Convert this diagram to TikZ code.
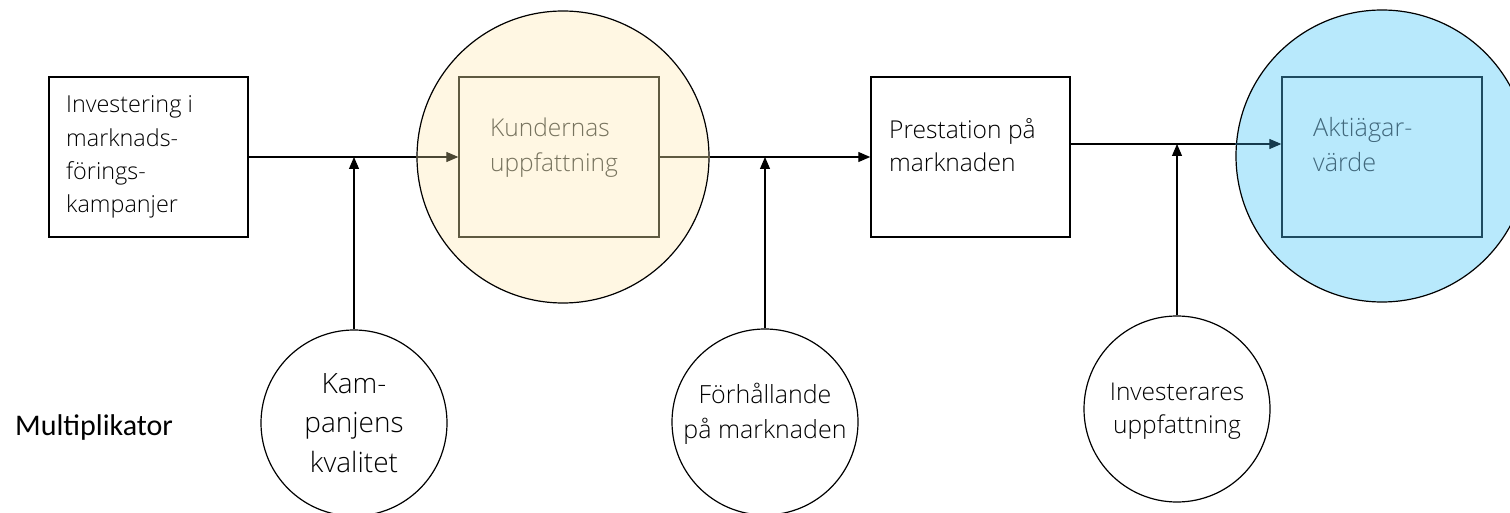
\documentclass[tikz,border=0pt]{standalone}
\usepackage{fontspec}
\setmainfont{Open Sans Light}
\newfontfamily\calibrifont{Carlito}
\usetikzlibrary{arrows.meta}

% colours of the two highlighted stages
\definecolor{creamfill}{HTML}{FFF7E3}
\definecolor{olivedraw}{HTML}{5F5A41}
\definecolor{olivearrow}{HTML}{4B4734}
\definecolor{olivetext}{HTML}{77735E}
\definecolor{skyfill}{HTML}{B8E9FC}
\definecolor{navydraw}{HTML}{1E4B60}
\definecolor{navyarrow}{HTML}{153A4D}
\definecolor{navytext}{HTML}{41687C}

\tikzset{
  stagebox/.style={draw, line width=1.5pt, minimum width=199pt, minimum height=160pt, inner sep=0pt},
  innerbox/.style={draw, line width=1.3pt, minimum width=200pt, minimum height=160pt, inner sep=0pt},
  bigdisc/.style={circle, draw, line width=1.2pt, minimum size=292pt, inner sep=0pt},
  factor/.style={circle, draw, line width=1.2pt, minimum size=186pt, inner sep=0pt},
  words/.style={inner sep=0pt, anchor=base west},
  cwords/.style={inner sep=0pt, anchor=base},
  flow/.style={line width=1.1pt},
  tip/.style={-{Triangle[length=12pt,width=10pt]}},
}

\begin{document}
\begin{tikzpicture}[x=1pt,y=-1pt]
\useasboundingbox (0,0) rectangle (1510,513);

% stage 1
\node[stagebox] (invest) at (148.5,157) {};
\node[words] (investtxt) at (66,113)
  {\parbox[t]{190pt}{\fontsize{23.4}{33.3}\selectfont\raggedright Investering i\\marknads-\\förings-\\kampanjer}};

% stage 2: customers' perception
\node[bigdisc, fill=creamfill] (kundc) at (563,157) {};
\node[innerbox, draw=olivedraw] (kundr) at (559,157) {};
\node[words, text=olivetext] (kundtxt) at (490,137)
  {\parbox[t]{170pt}{\fontsize{24.5}{35}\selectfont\raggedright Kundernas\\uppfattning}};

% stage 3
\node[stagebox] (prest) at (970.5,157) {};
\node[words] (presttxt) at (889,139)
  {\parbox[t]{180pt}{\fontsize{24.6}{33}\selectfont\raggedright Prestation på\\marknaden}};

% stage 4: shareholder value
\node[bigdisc, fill=skyfill] (aktc) at (1382,156) {};
\node[innerbox, draw=navydraw] (aktr) at (1382,157) {};
\node[words, text=navytext] (akttxt) at (1313,137)
  {\parbox[t]{170pt}{\fontsize{25.2}{35}\selectfont\raggedright Aktiägar-\\värde}};

% multipliers
\node[factor] (kamp) at (354,423) {};
\node[cwords] (kamptxt) at (354,393)
  {\parbox[t]{170pt}{\fontsize{28}{39.5}\selectfont\centering Kam-\\panjens\\kvalitet}};

\node[factor] (forh) at (765,422) {};
\node[cwords] (forhtxt) at (765,403)
  {\parbox[t]{180pt}{\fontsize{25}{35}\selectfont\centering Förhållande\\på marknaden}};

\node[factor] (inv) at (1177,409) {};
\node[cwords] (invtxt) at (1177,400)
  {\parbox[t]{170pt}{\fontsize{24.5}{33}\selectfont\centering Investerares\\uppfattning}};

\node[words] (multi) at (15,435) {\calibrifont\fontsize{30}{36}\selectfont Multiplikator};

% main chain
\draw[flow] (invest.east) -- (kundc.west);
\draw[flow, draw=olivearrow, fill=olivearrow, tip] (kundc.west) -- (kundr.west);
\draw[flow, draw=olivedraw] (kundr.east) -- (kundc.east);
\draw[flow, tip] (kundc.east) -- (prest.west);

\coordinate (out3) at ([yshift=13pt]prest.east);
\coordinate (rim4) at (out3 -| aktc.west);
\draw[flow] (out3) -- (rim4);
\draw[flow, draw=navyarrow, fill=navyarrow, tip] (rim4) -- (out3 -| aktr.west);

% multipliers acting on the chain
\draw[flow, tip] (kamp.north) -- (kamp.north |- invest.east);
\draw[flow, tip] (forh.north) -- (forh.north |- prest.west);
\draw[flow, tip] (inv.north) -- (inv.north |- out3);
\end{tikzpicture}
\end{document}
